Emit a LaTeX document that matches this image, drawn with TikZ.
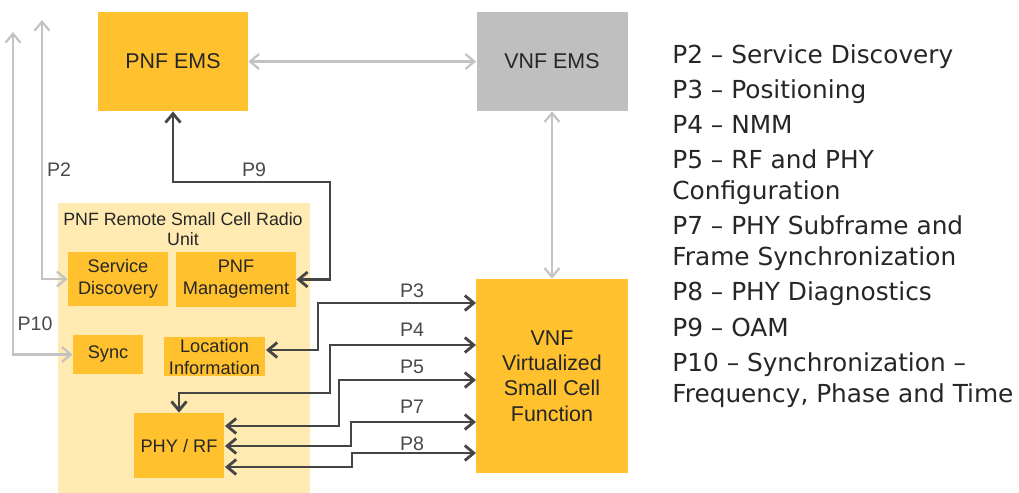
\documentclass[tikz,border=0pt]{standalone}
\usepackage{fontspec}
\setmainfont{Liberation Sans}
\newfontfamily\legendfont{DejaVu Sans}
\usetikzlibrary{arrows.meta,positioning}
\definecolor{boxyellow}{HTML}{FFC12E}
\definecolor{unityellow}{HTML}{FFEAB2}
\definecolor{emsgray}{HTML}{BFBFBF}
\definecolor{linegray}{HTML}{C3C3C3}
\definecolor{linedark}{HTML}{454545}
\definecolor{boxtext}{HTML}{262626}
\definecolor{labelgray}{HTML}{4A4A4A}

\begin{document}
\begin{tikzpicture}[x=0.5pt, y=-0.5pt,
    box/.style={rectangle, fill=boxyellow, text=boxtext, inner sep=0pt, align=center, font=\fontsize{9.1}{11}\selectfont},
    bigbox/.style={rectangle, fill=boxyellow, text=boxtext, inner sep=0pt, align=center, font=\fontsize{10.7}{12.5}\selectfont},
    garrow/.style={draw=linegray, line width=1.1pt, {Straight Barb[length=4.5pt,width=7.5pt]}-{Straight Barb[length=4.5pt,width=7.5pt]}},
    darrow/.style={draw=linedark, line width=1.4pt, {Straight Barb[length=4.5pt,width=7.5pt]}-{Straight Barb[length=4.5pt,width=7.5pt]}},
    plabel/.style={text=labelgray, inner sep=0pt, font=\fontsize{9.8}{11}\selectfont}]
    \useasboundingbox (0,0) rectangle (1019,493);

    % Element managers
    \node[bigbox, minimum width=75pt, minimum height=49.5pt] (pnfems) at (173,61.5) {PNF EMS};
    \node[bigbox, fill=emsgray, minimum width=75.5pt, minimum height=49.5pt] (vnfems) at (552,61.5) {VNF EMS};

    % Remote unit
    \node[rectangle, fill=unityellow, minimum width=126pt, minimum height=145pt, inner sep=0pt] (unit) at (184,348) {};
    \node[text=boxtext, align=center, inner sep=0pt, font=\fontsize{8.9}{10}\selectfont] (unitlabel) at (183,229) {PNF Remote Small Cell Radio\\Unit};
    \node[box, minimum width=50pt, minimum height=27pt] (service) at (118,279) {Service\\Discovery};
    \node[box, minimum width=60pt, minimum height=27.5pt] (pnfmgmt) at (236,279.5) {PNF\\Management};
    \node[box, minimum width=35pt, minimum height=19.5pt] (sync) at (108,354.5) {Sync};
    \node[box, minimum width=50.5pt, minimum height=19.5pt] (location) at (214.5,356.5) {Location\\Information};
    \node[box, minimum width=45pt, minimum height=32.5pt] (phyrf) at (179,445.5) {PHY / RF};

    % Virtualized function
    \node[bigbox, minimum width=76pt, minimum height=97pt, font=\fontsize{10.7}{12.6}\selectfont] (vnf) at (552,376) {VNF\\Virtualized\\Small Cell\\Function};

    % Light connections
    \draw[garrow] (pnfems.east) -- (vnfems.west);
    \draw[garrow] (vnfems.south) -- (vnf.north);
    \coordinate (p2top) at (42,20);
    \coordinate (p10top) at (13,32);
    \draw[garrow] (p2top) |- (service.west);
    \draw[garrow] (p10top) |- (sync.west);
    \node[plabel] (p2) at (59,170) {P2};
    \node[plabel] (p10) at (35,324) {P10};

    % OAM
    \coordinate (p9knee) at (330,182);
    \draw[darrow] (pnfems.south) |- (p9knee) |- (pnfmgmt.east);
    \node[plabel] (p9) at (254,170) {P9};

    % Positioning and NMM
    \coordinate (p3left) at (266,350);
    \coordinate (p3right) at (476,303);
    \draw[darrow] (p3left) -| (318,320) |- (p3right);
    \coordinate (p4right) at (476,345);
    \draw[darrow] (phyrf.north) |- (330,393) |- (p4right);

    % Connections from PHY / RF to VNF
    \foreach \name/\ya/\xk/\yb in {p5/426/339/380, p7/446/351/422, p8/467/352/453} {
      \coordinate (\name left) at (225,\ya);
      \coordinate (\name right) at (476,\yb);
      \draw[darrow] (\name left) -| (\xk,\yb) -- (\name right);
    }

    % Interface labels
    \foreach \name/\y/\txt in {p3/291/P3, p4/330/P4, p5/367/P5, p7/407/P7, p8/444/P8} {
      \node[plabel] (\name label) at (412,\y) {\txt};
    }

    % Legend
    \node[anchor=north west, inner sep=0pt, align=left, text=boxtext, font=\legendfont\fontsize{12.4}{15.4}\selectfont] (legend) at (672,44)
      {P2 – Service Discovery\\[2.2pt]
       P3 – Positioning\\[2.2pt]
       P4 – NMM\\[2.2pt]
       P5 – RF and PHY\\
       Configuration\\[2.2pt]
       P7 – PHY Subframe and\\
       Frame Synchronization\\[2.2pt]
       P8 – PHY Diagnostics\\[2.2pt]
       P9 – OAM\\[2.2pt]
       P10 – Synchronization –\\
       Frequency, Phase and Time};
\end{tikzpicture}
\end{document}
